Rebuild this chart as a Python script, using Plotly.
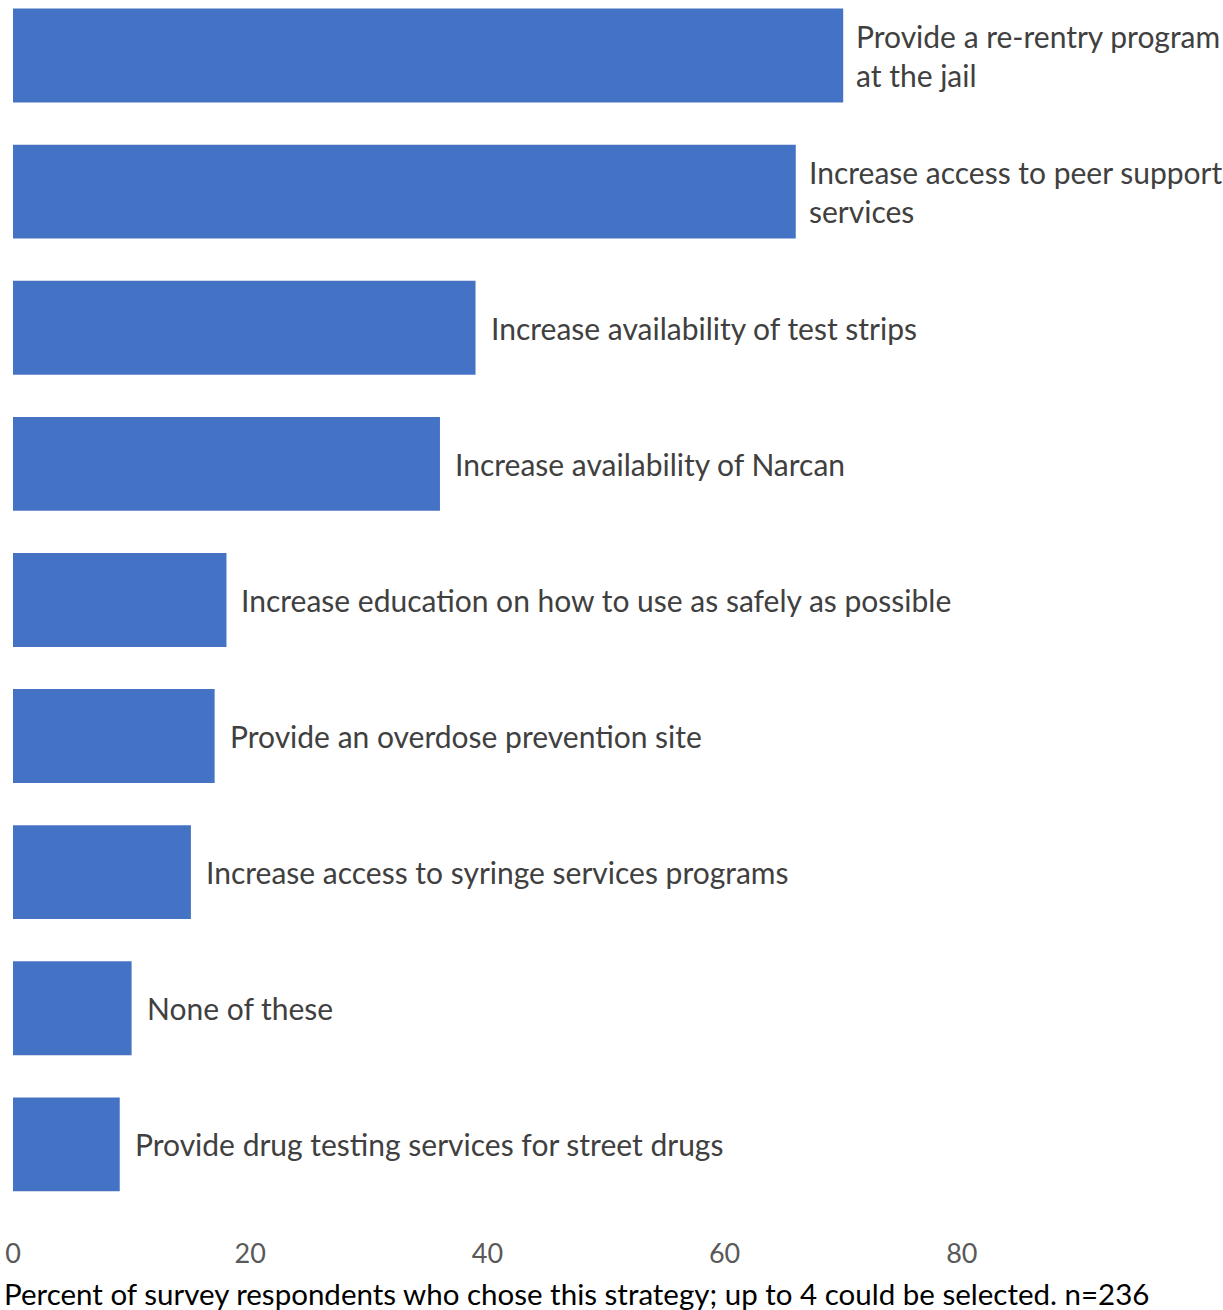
import plotly.graph_objects as go

# Survey strategies (top to bottom) and share of respondents choosing each
strategies = [
    "Provide a re-rentry program<br>at the jail",
    "Increase access to peer support<br>services",
    "Increase availability of test strips",
    "Increase availability of Narcan",
    "Increase education on how to use as safely as possible",
    "Provide an overdose prevention site",
    "Increase access to syringe services programs",
    "None of these",
    "Provide drug testing services for street drugs",
]
percents = [70, 66, 39, 36, 18, 17, 15, 10, 9]
tick_values = [0, 20, 40, 60, 80]
axis_title = "Percent of survey respondents who chose this strategy; up to 4 could be selected. n=236"

positions = list(range(len(strategies)))
bar_color = "#4472C4"
font_family = "Lato, 'Open Sans', sans-serif"

fig = go.Figure(
    go.Bar(
        x=percents,
        y=positions,
        orientation="h",
        width=0.69,
        marker=dict(color=bar_color, line=dict(width=0)),
        hoverinfo="skip",
    )
)

# Category labels placed just past the end of each bar
for pos, (label, val) in enumerate(zip(strategies, percents)):
    wrapped = "<br>" in label
    fig.add_annotation(
        x=val,
        y=pos,
        xref="x",
        yref="y",
        text=label,
        showarrow=False,
        xanchor="left",
        yanchor="middle",
        align="left",
        xshift=11 if wrapped else 13,
        font=dict(family=font_family, size=30, color="#404040"),
    )

# Horizontal-axis caption, set flush with the left edge of the page
fig.add_annotation(
    text=axis_title,
    xref="paper",
    yref="paper",
    x=-11 / 1186,
    y=0,
    xanchor="left",
    yanchor="top",
    yshift=-39,
    showarrow=False,
    font=dict(family=font_family, size=29.5, color="#000000"),
)

fig.update_layout(
    width=1223,
    height=1310,
    margin=dict(l=13, r=24, t=0, b=75),
    plot_bgcolor="white",
    paper_bgcolor="white",
    showlegend=False,
    xaxis=dict(
        range=[0, 100],
        tickvals=tick_values,
        showgrid=False,
        zeroline=False,
        showline=False,
        ticks="",
        tickfont=dict(family=font_family, size=27, color="#595959"),
        automargin=False,
        fixedrange=True,
    ),
    yaxis=dict(
        range=[8.666, -0.408],
        showticklabels=False,
        showgrid=False,
        zeroline=False,
        showline=False,
        ticks="",
        automargin=False,
        fixedrange=True,
    ),
)

fig.write_html("out.html")
